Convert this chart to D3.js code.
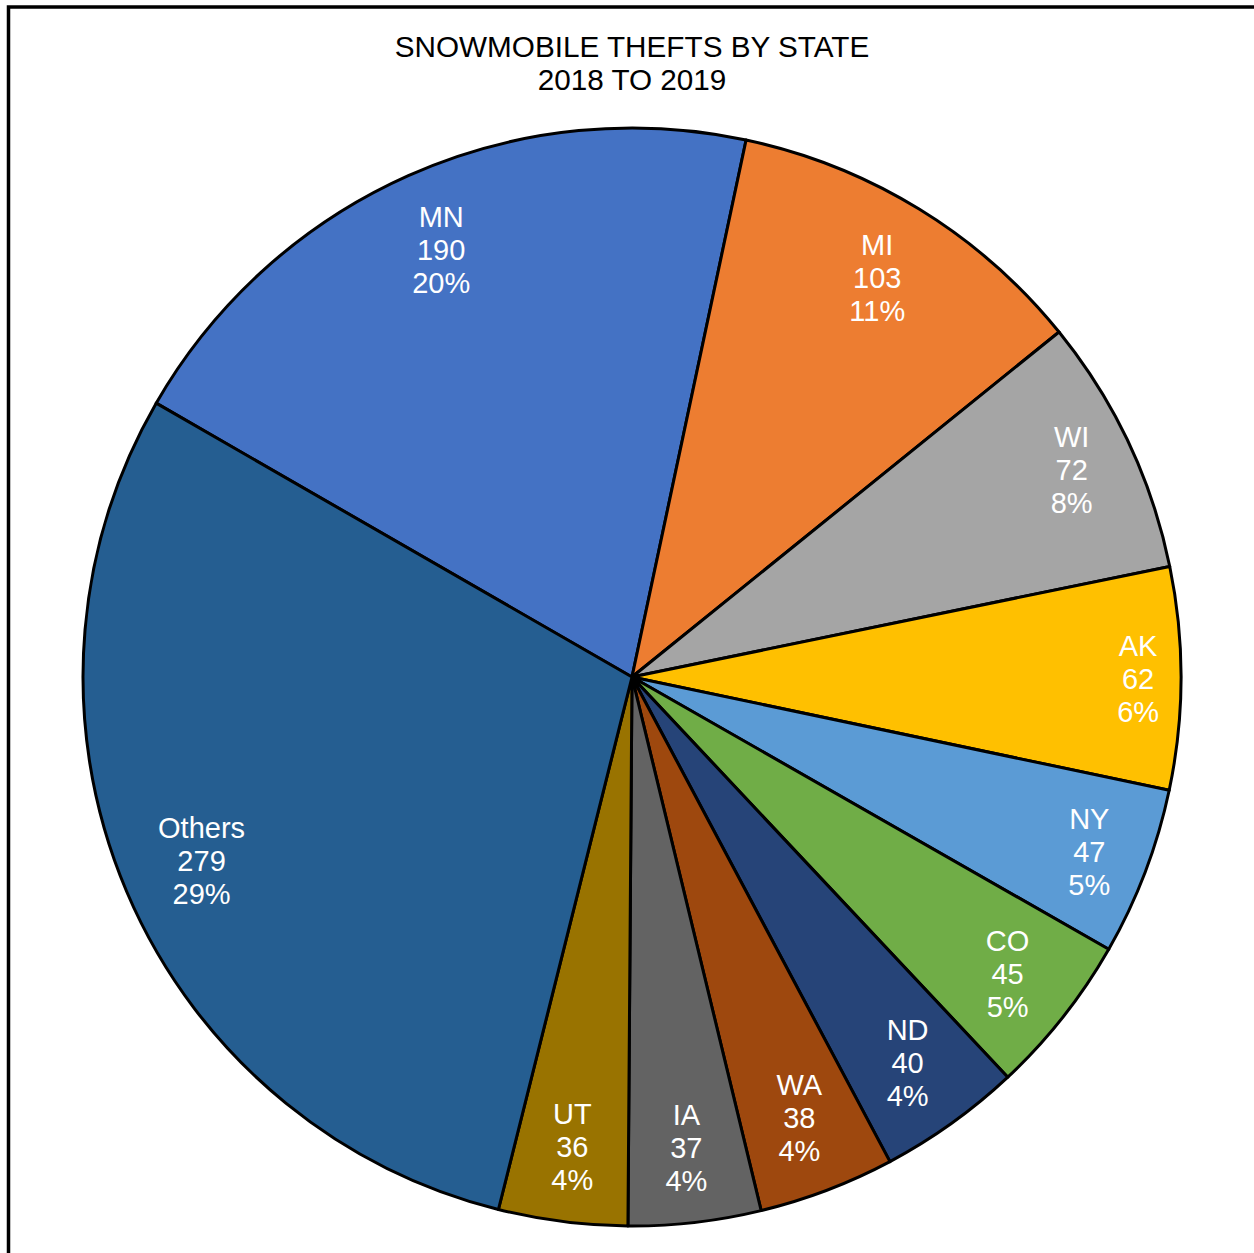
<!DOCTYPE html>
<html>
<head>
<meta charset="utf-8">
<script src="https://cdn.jsdelivr.net/npm/d3@7"></script>
<style>
  body { margin: 0; background: #fff; }
  svg { display: block; font-family: Arial, "Liberation Sans", sans-serif; }
</style>
</head>
<body>
<svg id="chart" width="1254" height="1253"></svg>
<script>
// data
const states = ['MN', 'MI', 'WI', 'AK', 'NY', 'CO', 'ND', 'WA', 'IA', 'UT', 'Others'];
const thefts = [190, 103, 72, 62, 47, 45, 40, 38, 37, 36, 279];
const percents = ['20%', '11%', '8%', '6%', '5%', '5%', '4%', '4%', '4%', '4%', '29%'];
const colors = ['#4472C4', '#ED7D31', '#A5A5A5', '#FFC000', '#5B9BD5', '#70AD47',
                '#264478', '#9E480E', '#636363', '#997300', '#255E91'];
const titleLines = ['SNOWMOBILE THEFTS BY STATE', '2018 TO 2019'];

const width = 1254, height = 1253;
const cx = 632, cy = 677, radius = 549;
const startDeg = -60.08;

const svg = d3.select('#chart');

// outer frame (runs off the right and bottom edges)
svg.append('rect')
    .attr('x', 8.5).attr('y', 7)
    .attr('width', width + 20).attr('height', height + 20)
    .attr('fill', 'none')
    .attr('stroke', '#000')
    .attr('stroke-width', 3.5);

// title
svg.append('text')
    .attr('text-anchor', 'middle')
    .attr('font-size', 29.7)
    .attr('fill', '#000')
    .selectAll('tspan')
    .data(titleLines)
    .join('tspan')
    .attr('x', cx)
    .attr('y', (d, i) => 57 + i * 33)
    .text((d) => d);

const data = states.map((s, i) => ({state: s, value: thefts[i], pct: percents[i], color: colors[i]}));

const pie = d3.pie()
    .value((d) => d.value)
    .sort(null)
    .startAngle(startDeg * Math.PI / 180)
    .endAngle((startDeg + 360) * Math.PI / 180);

const arc = d3.arc().innerRadius(0).outerRadius(radius);

const g = svg.append('g').attr('transform', 'translate(' + cx + ',' + cy + ')');
const arcs = pie(data);

g.selectAll('path.slice')
    .data(arcs)
    .join('path')
    .attr('class', 'slice')
    .attr('d', arc)
    .attr('fill', (d) => d.data.color)
    .attr('stroke', '#000')
    .attr('stroke-width', 3)
    .attr('stroke-linejoin', 'round');

// labels: inside end, box pushed out until its far corner hits radius - pad
const lineH = 33;
const pad = 19;
const labels = g.selectAll('text.lbl')
    .data(arcs)
    .join('text')
    .attr('class', 'lbl')
    .attr('text-anchor', 'middle')
    .attr('font-size', 29)
    .attr('fill', '#fff');

labels.each(function(d) {
    const t = d3.select(this);
    const lines = [d.data.state, String(d.data.value), d.data.pct];
    t.selectAll('tspan').data(lines).join('tspan')
        .attr('x', 0)
        .attr('dy', (l, i) => i === 0 ? 0 : lineH)
        .text((l) => l);
    const w = d3.max(t.selectAll('tspan').nodes(), (n) => n.getComputedTextLength());
    const h = lineH * 3 + 10;
    const a = (d.startAngle + d.endAngle) / 2;
    const sx = Math.sin(a), sy = -Math.cos(a);
    const far = (r) => {
        const x = Math.abs(r * sx) + w / 2;
        const y = Math.abs(r * sy) + h / 2;
        return Math.sqrt(x * x + y * y);
    };
    let lo = 0, hi = radius;
    for (let k = 0; k < 40; k++) {
        const mid = (lo + hi) / 2;
        if (far(mid) > radius - pad) hi = mid; else lo = mid;
    }
    const px = lo * sx, py = lo * sy;
    t.attr('transform', 'translate(' + px + ',' + (py - lineH + 11) + ')');
});
</script>
</body>
</html>
